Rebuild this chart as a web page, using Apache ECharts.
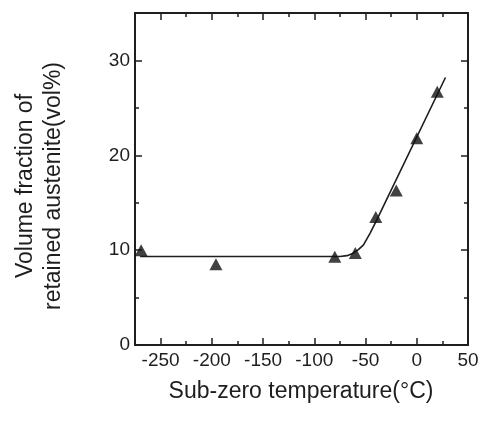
<!DOCTYPE html>
<html>
<head>
<meta charset="utf-8">
<script src="https://cdn.jsdelivr.net/npm/echarts@6/dist/echarts.min.js"></script>
<style>
  html, body { margin: 0; padding: 0; background: #fff; }
  #main { width: 485px; height: 424px; }
</style>
</head>
<body>
<div id="main"></div>
<script>
// measured points
var tempC = [-269, -196, -80, -60, -40, -20, 0, 20];
var retained = [10.0, 8.5, 9.3, 9.7, 13.5, 16.3, 21.8, 26.7];

// fitted curve
var fitT = [-270, -75, -68, -62, -57, -52, -45.5, -39, 28];
var fitV = [9.33, 9.33, 9.42, 9.68, 10.05, 10.56, 11.8, 13.2, 28.2];

// ticks
var xMajor = [-250, -200, -150, -100, -50, 0, 50];
var xMinor = [-225, -175, -125, -75, -25, 25];
var yMajor = [0, 10, 20, 30];
var yMinor = [5, 15, 25];

var ink = "#1f1d1e";
var font = "'Liberation Sans', Arial, sans-serif";

function pairs(xs, ys) {
  return xs.map(function(x, i) { return [x, ys[i]]; });
}

function xAx(pos, grid, ticks, len, labels, line) {
  return {
    type: "value", gridIndex: grid, position: pos, min: -275, max: 50,
    axisLine: { show: line, onZero: false, lineStyle: { color: ink, width: 2 } },
    axisTick: { show: true, inside: true, length: len, customValues: ticks,
      lineStyle: { color: ink, width: 1.5 } },
    axisLabel: labels ? { customValues: ticks, fontSize: 19, color: ink, margin: 6, fontFamily: font }
                      : { show: false },
    splitLine: { show: false }
  };
}

function yAx(pos, grid, ticks, len, labels, line) {
  return {
    type: "value", gridIndex: grid, position: pos, min: 0, max: 35,
    axisLine: { show: line, onZero: false, lineStyle: { color: ink, width: 2 } },
    axisTick: { show: true, inside: true, length: len, customValues: ticks,
      lineStyle: { color: ink, width: 1.5 } },
    axisLabel: labels ? { customValues: ticks, fontSize: 19, color: ink, margin: 5, fontFamily: font }
                      : { show: false },
    splitLine: { show: false }
  };
}

var chart = echarts.init(document.getElementById("main"));
var rect = { left: 135, right: 17, top: 13, bottom: 79 };

chart.setOption({
  backgroundColor: "#fff",
  animation: false,
  textStyle: { fontFamily: font },
  grid: [Object.assign({}, rect), Object.assign({}, rect)],
  xAxis: [
    xAx("bottom", 0, xMajor, 7, true, true),
    xAx("top", 0, xMajor, 7, false, true),
    xAx("bottom", 1, xMinor, 4, false, false),
    xAx("top", 1, xMinor, 4, false, false)
  ],
  yAxis: [
    yAx("left", 0, yMajor, 7, true, true),
    yAx("right", 0, yMajor, 7, false, true),
    yAx("left", 1, yMinor, 4, false, false),
    yAx("right", 1, yMinor, 4, false, false)
  ],
  graphic: [
    {
      type: "text", x: 40, y: 186, rotation: Math.PI / 2,
      style: {
        text: "Volume fraction of\nretained austenite(vol%)",
        fontSize: 23, lineHeight: 28, fontFamily: font, fill: ink,
        align: "center", verticalAlign: "middle"
      }
    },
    {
      type: "text", x: 301, y: 392,
      style: {
        text: "Sub-zero temperature(°C)",
        fontSize: 23, fontFamily: font, fill: ink,
        align: "center", verticalAlign: "middle"
      }
    }
  ],
  series: [
    {
      type: "line",
      xAxisIndex: 0, yAxisIndex: 0,
      data: pairs(fitT, fitV),
      showSymbol: false,
      lineStyle: { color: ink, width: 1.6 },
      z: 2
    },
    {
      type: "scatter",
      xAxisIndex: 0, yAxisIndex: 0,
      data: pairs(tempC, retained),
      symbol: "triangle",
      symbolSize: [13, 12],
      clip: false,
      itemStyle: { color: "#111" },
      z: 3
    }
  ]
});
</script>
</body>
</html>
